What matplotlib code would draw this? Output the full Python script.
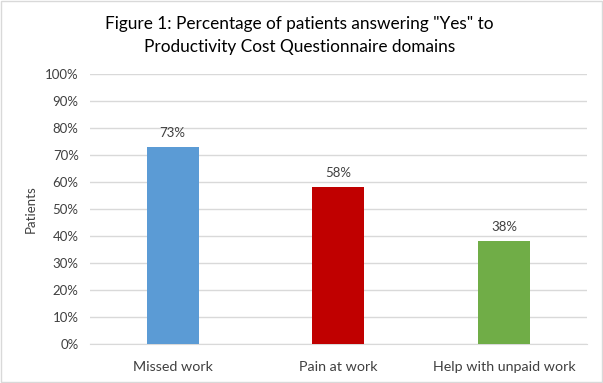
import numpy as np
import matplotlib
matplotlib.use('Agg')
import matplotlib.pyplot as plt
from matplotlib.ticker import PercentFormatter

categories = ['Missed work', 'Pain at work', 'Help with unpaid work']
values = [73, 58, 38]
bar_colors = ['#5b9bd5', '#c00000', '#70ad47']
title = 'Figure 1: Percentage of patients answering "Yes" to\nProductivity Cost Questionnaire domains'

plt.rcParams['font.family'] = ['Lato', 'DejaVu Sans']

f = plt.figure(figsize=(6.03, 3.83), dpi=100)
ax = f.add_axes([0.149, 0.1018, 0.824, 0.705])

x = np.arange(len(categories))
ax.bar(x, values, width=0.314, color=bar_colors, zorder=3)
for xi, v in zip(x, values):
    ax.text(xi, v + 3, f'{v}%', ha='center', va='bottom', fontsize=9.5, color='#404040')

ax.set_xlim(-0.5, 2.5)
ax.set_ylim(0, 100)
ax.set_yticks(np.arange(0, 101, 10))
ax.yaxis.set_major_formatter(PercentFormatter(decimals=0))
ax.set_xticks(x)
ax.set_xticklabels(categories)
ax.tick_params(length=0, labelsize=9.5, labelcolor='#404040')
ax.tick_params(axis='x', pad=12, labelsize=10.3)
ax.tick_params(axis='y', pad=8)
ax.grid(axis='y', color='#d9d9d9', linewidth=1, zorder=0)
for s in ['top', 'right', 'left']:
    ax.spines[s].set_visible(False)
ax.spines['bottom'].set_color('#d9d9d9')
ax.set_ylabel('Patients', fontsize=9.5, color='#404040', labelpad=6)

f.text(0.497, 0.907, title, ha='center', va='center', fontsize=12.4, color='#000000', linespacing=1.55)
f.patches.append(plt.Rectangle((0.0015, 0.0015), 0.997, 0.996, transform=f.transFigure,
                               fill=False, edgecolor='#d9d9d9', linewidth=1))

f.savefig('out.png', dpi=100)
